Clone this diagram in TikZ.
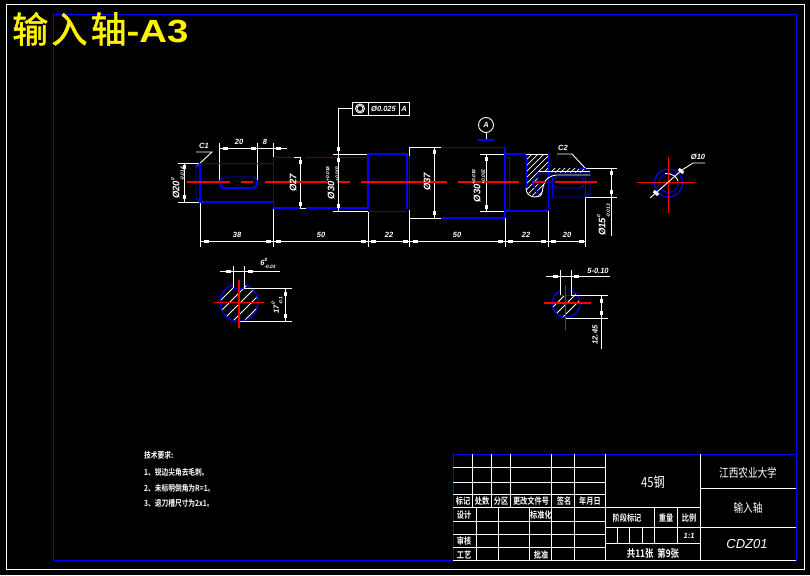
\documentclass[tikz,border=0pt]{standalone}
\usepackage{fontspec}
\usepackage{graphicx}
\setmainfont{Liberation Sans}
\newfontfamily\cjkthin[FakeStretch=0.8]{Noto Sans CJK SC}
\newfontfamily\cjknarrow[FakeStretch=0.8]{Noto Sans CJK SC Bold}
\newfontfamily\cjktitle[LetterSpace=9,FakeBold=1.6]{Noto Sans CJK SC}
\newcommand{\dimfont}{\fontsize{7.5}{8}\selectfont\bfseries\itshape}
\newcommand{\sidefont}{\fontsize{9.5}{10}\selectfont\bfseries\itshape}
\newcommand{\tolval}[2]{\begin{tabular}{@{}l@{}}\fontsize{4.8}{4}\selectfont #1\\[-0.5pt]\fontsize{4.8}{4}\selectfont #2\end{tabular}}
\usetikzlibrary{positioning}

\begin{document}
\begin{tikzpicture} [x=1pt, y=-1pt, node distance=20pt, line cap=butt,
  dimline/.style={white, line width=0.9pt},
  outline/.style={blue, line width=0.9pt},
  heavy/.style={blue, line width=1.9pt},
  axis/.style={red, line width=1.4pt},
  hatchline/.style={white, line width=0.8pt},
  dimtext/.style={white, inner sep=0pt, font=\dimfont},
  sidetext/.style={white, inner sep=0pt, font=\sidefont, rotate=90},
  tablecell/.style={white, inner sep=0pt, font=\cjknarrow\fontsize{9}{10}\selectfont},
  gdtcell/.style={draw=white, line width=0.9pt, text=white, inner sep=0pt, minimum height=13pt, font=\dimfont}]
  % Sheet and frames
  \fill [black] (0,0) rectangle (810,575);
  \useasboundingbox (0,0) rectangle (810,575);
  \draw [white, line width=1pt] (6,5) rectangle (804,569);
  \draw [blue, line width=1pt] (53,15) rectangle (796,560.5);
  \node [anchor=west, text=yellow, inner sep=0pt] (title) at (12,29) {\cjktitle\fontsize{36}{37}\selectfont 输入轴\fontspec{Liberation Sans Bold}\fontsize{32}{37}\selectfont\scalebox{1.2}[1]{-A3}};

  %% Extension and dimension lines
  \draw [dimline] (178,163) -- (200,163);
  \draw [dimline] (178,202) -- (200,202);
  \draw [dimline] (184,163) -- (184,202);
  \draw [dimline] (219,143) -- (219,182);
  \draw [dimline] (257,143) -- (257,182);
  \draw [dimline] (273,143) -- (273,157);
  \draw [dimline] (219,148) -- (287,148);
  \draw [dimline] (200,202) -- (200,247);
  \draw [dimline] (273,208) -- (273,247);
  \draw [dimline] (368,211) -- (368,247);
  \draw [dimline] (409,147) -- (409,156);
  \draw [dimline] (409,210) -- (409,247);
  \draw [dimline] (505,218) -- (505,247);
  \draw [dimline] (548,211) -- (548,247);
  \draw [dimline] (585,197) -- (585,247);
  \draw [dimline] (200,241) -- (585,241);
  \draw [dimline] (294,157) -- (300,157) -- (300,208) -- (306,208);
  \draw [dimline] (333,154) -- (368,154);
  \draw [dimline] (333,211) -- (368,211);
  \draw [dimline] (409,147) -- (441,147);
  \draw [dimline] (409,218) -- (441,218);
  \draw [dimline] (434,147) -- (434,218);
  \draw [dimline] (480,154) -- (505,154);
  \draw [dimline] (480,211) -- (505,211);
  \draw [dimline] (486,154) -- (486,211);
  \draw [dimline] (585,168) -- (617,168);
  \draw [dimline] (585,197) -- (617,197);
  \draw [dimline] (611,168) -- (611,236);
  % Chamfer leaders
  \draw [dimline] (196,152) -- (212,152) -- (196,167);
  \draw [dimline] (557,154) -- (572,154) -- (585,168);

  %% Shaft outline
  \draw [outline] (200,163) -- (196,167) -- (196,198) -- (200,202);
  \draw [outline] (200,163) -- (273,163);
  \draw [heavy] (200,163) -- (200,202) -- (273,202);
  \draw [outline] (273,157) -- (273,208);
  \draw [outline] (273,157) -- (294,157);
  \draw [outline] (306,157) -- (368,157);
  \draw [heavy] (273,208) -- (300,208);
  \draw [heavy] (306,208) -- (368,208);
  \draw [heavy] (368,154) -- (407,154) -- (407,209);
  \draw [heavy] (368,154) -- (368,209);
  \draw [outline] (368,211) -- (407,211);
  \draw [outline] (409,156) -- (409,210);
  \draw [outline] (407,157) -- (409,157);
  \draw [outline] (441,147) -- (505,147);
  \draw [heavy] (441,218) -- (505,218);
  \draw [heavy] (505,147) -- (505,218);
  \draw [outline] (509,157) -- (509,209);
  \draw [outline] (505,157) -- (509,157);
  \draw [outline] (505,209) -- (509,209);
  \draw [heavy] (505,154) -- (526,154);
  \draw [heavy] (505,211) -- (548,211);
  % Keyways
  \draw [outline] (220,180) -- (223,177) -- (254,177) -- (257,180);
  \draw [heavy] (220,180) -- (220,185) -- (223,188) -- (254,188) -- (257,185) -- (257,180);
  \draw [outline] (553,180) -- (556,177) -- (581,177) -- (584,180) -- (584,185) -- (581,188) -- (556,188) -- (553,185) -- cycle;

  %% Broken-out section at the shaft end
  \begin{scope}
    \clip (526,154) -- (548,154) -- (548,172) -- (538,172) -- (538,184) -- (544,184) -- (542,195) -- (535,197) -- (526,192) -- cycle;
    \foreach \c in {464,470,...,530}
      \draw [hatchline, line width=0.7pt] (\c,210) -- (\c+60,150);
  \end{scope}
  \begin{scope}
    \clip (551,168) rectangle (585,172);
    \foreach \c in {540,545,...,590}
      \draw [hatchline, line width=0.7pt] (\c,173) -- (\c+6,167);
  \end{scope}
  \draw [outline] (526,154) -- (526,188);
  \draw [dimline] (526,154) -- (548,154);
  \draw [outline] (548,154) -- (548,211);
  \draw [outline] (538,173) -- (590,173) -- (590,193) -- (586,197) -- (548,197);
  \draw [outline] (552,177) -- (552,197);
  \draw [outline] (585,168) -- (585,197);
  \draw [outline] (578,168) -- (585,168);
  \draw [outline] (532,182) -- (538,173) -- (538,195) -- cycle;
  \draw [dimline] (538,171) -- (590,171);
  \draw [dimline] (526,188) .. controls (526,194) and (530,197) .. (535,197) -- (540,196) .. controls (543,194) and (542,188) .. (544,184) .. controls (546,178) and (550,176) .. (556,175) -- (590,175);

  %% Axis
  \draw [axis] (187,182) -- (230,182);
  \draw [axis] (241,182) -- (253,182);
  \draw [axis] (265,182) -- (327,182);
  \draw [axis] (337,182) -- (350,182);
  \draw [axis] (361,182) -- (447,182);
  \draw [axis] (458,182) -- (519,182);
  \draw [axis] (533,182) -- (545,182);
  \draw [axis] (555,182) -- (597,182);

  %% Arrow marks
  \foreach \x/\y in {206/241,268/241,278/241,363/241,373/241,405/241,415/241,500/241,510/241,543/241,553/241,581/241,225/148,253/148,278/148}
    \fill [white] (\x-2.5,\y-1.5) rectangle ++(5,3);
  \foreach \x/\y in {184/167,184/197,300/162,300/204,338/149,338/160,338/206,434/152,434/213,486/159,486/207,611/173,611/192}
    \fill [white] (\x-1.5,\y-2) rectangle ++(3,4);

  %% Dimension texts
  \node [dimtext] (lenA) at (237,235) {38};
  \node [dimtext] (lenB) at (321,235) {50};
  \node [dimtext] (lenC) at (389,235) {22};
  \node [dimtext] (lenD) at (457,235) {50};
  \node [dimtext] (lenE) at (526,235) {22};
  \node [dimtext] (lenF) at (567,235) {20};
  \node [dimtext] (slotlen) at (239,142) {20};
  \node [dimtext] (slotpos) at (265,142) {8};
  \node [dimtext] (chamL) at (204,146) {C1};
  \node [dimtext] (chamR) at (563,148) {C2};
  \node [sidetext] (diaA) at (177,183) {Ø20\tolval{0}{-0.014}};
  \node [sidetext] (diaB) at (293,183) {Ø27};
  \node [sidetext] (diaC) at (332,183) {Ø30\tolval{+0.018}{+0.002}};
  \node [sidetext] (diaD) at (427,182) {Ø37};
  \node [sidetext] (diaE) at (478,186) {Ø30\tolval{+0.018}{+0.002}};
  \node [sidetext] (diaF) at (603,220) {Ø15\tolval{0}{-0.013}};

  %% Runout tolerance and datum
  \node [gdtcell, minimum width=16pt] (gdtform) at (360,108.5) {};
  \node [gdtcell, minimum width=31pt, right of=gdtform, node distance=23.5pt] (gdtval) {Ø0.025};
  \node [gdtcell, minimum width=10pt, right of=gdtval, node distance=20.5pt] (gdtref) {A};
  \draw [dimline] (gdtform.center) circle (4.5pt);
  \draw [dimline] (gdtform.center) circle (3pt);
  \draw [dimline] (gdtform.west) -| (338,154);
  \draw [dimline] (338,154) -- (338,211);
  \node [circle, draw=white, line width=0.9pt, text=white, inner sep=0pt, minimum size=15pt, font=\dimfont] (datum) at (486,125) {A};
  \coordinate (datumfoot) at (486,140);
  \draw [dimline] (datum) -- (datumfoot);
  \draw [heavy] (478,140) -- (494,140);

  %% Small bearing section on the right
  \draw [heavy, line width=1.2pt] (668.5,183) circle (14pt);
  \draw [outline] (668.5,183) circle (9.5pt);
  \draw [dimline] (665,173.5) .. controls (672,173) and (677,177) .. (678,181);
  \draw [axis] (637,182.5) -- (695,182.5);
  \draw [axis] (668.5,157) -- (668.5,213);
  \draw [dimline] (650,198) -- (682,170) -- (693,163) -- (705,163);
  \foreach \x/\y in {656/193,681/171}
    \fill [white, rotate around={-40:(\x,\y)}] (\x-3,\y-1.5) rectangle ++(6,3);
  \node [dimtext] (holedia) at (698,156.5) {Ø10};

  %% Section at the left keyway
  \begin{scope}
    \clip (239,302.5) circle (19pt);
    \foreach \c in {170,181,...,280}
      \draw [hatchline] (\c,340) -- (\c+60,280);
  \end{scope}
  \draw [heavy, line width=1.2pt] (239,302.5) circle (19pt);
  \fill [black] (234,280) rectangle (243,288);
  \draw [outline] (233,288) -- (244,288);
  \draw [dimline] (233,266) -- (233,288);
  \draw [dimline] (244,266) -- (244,288);
  \draw [dimline] (220,271) -- (280,271);
  \draw [dimline] (244,288) -- (292,288);
  \draw [dimline] (239,321.5) -- (292,321.5);
  \draw [dimline] (285,288) -- (285,321.5);
  \draw [axis] (214,302.5) -- (264,302.5);
  \draw [axis] (239,280) -- (239,328);
  \foreach \x/\y in {228/271,250/271}
    \fill [white] (\x-2.5,\y-1.5) rectangle ++(5,3);
  \foreach \x/\y in {285/294,285/316}
    \fill [white] (\x-1.5,\y-2) rectangle ++(3,4);
  \node [dimtext] (keywidthA) at (268,263.5) {6\tolval{0}{-0.03}};
  \node [sidetext, font=\dimfont] (keydepthA) at (277,305) {17\tolval{0}{-0.1}};

  %% Section at the right keyway
  \begin{scope}
    \clip (566,303.5) circle (14pt);
    \foreach \c in {510,520,...,600}
      \draw [hatchline] (\c,330) -- (\c+50,280);
  \end{scope}
  \draw [heavy, line width=1.2pt] (566,303.5) circle (14pt);
  \fill [black] (561,285) rectangle (570,295);
  \draw [outline] (560,295) -- (571,295);
  \draw [dimline] (560,270) -- (560,295);
  \draw [dimline] (571,270) -- (571,295);
  \draw [dimline] (546,276) -- (610,276);
  \draw [dimline] (571,295) -- (608,295);
  \draw [dimline] (565,318) -- (608,318);
  \draw [dimline] (601,295) -- (601,349);
  \draw [axis] (544,303) -- (591,303);
  \draw [axis] (565.5,285) -- (565.5,330);
  \foreach \x/\y in {555/276,576/276}
    \fill [white] (\x-2.5,\y-1.5) rectangle ++(5,3);
  \foreach \x/\y in {601/301,601/313}
    \fill [white] (\x-1.5,\y-2) rectangle ++(3,4);
  \node [dimtext] (keywidthB) at (598,270.5) {5-0.10};
  \node [sidetext, font=\dimfont] (keydepthB) at (595,335) {12.45};

  %% Technical notes
  \foreach \n/\y/\t in {noteA/455/技术要求:,noteB/472/1、锐边尖角去毛刺。,noteC/488/2、未标明倒角为R=1。,noteD/503/3、退刀槽尺寸为2x1。}
    \node [tablecell, anchor=west, font=\cjknarrow\fontsize{8.4}{10}\selectfont] (\n) at (144,\y) {\t};

  %% Title block
  \draw [blue, line width=1pt] (453,454) -- (796,454);
  \draw [blue, line width=1pt] (453,454) -- (453,560.5);
  \draw [white, line width=1pt] (453,560) -- (796,560);
  \foreach \y in {467,482,494,507}
    \draw [dimline] (453,\y) -- (605,\y);
  \foreach \y in {521,534,547}
    \draw [dimline] (453,\y) -- (605,\y);
  \foreach \x in {472,491,510}
    \draw [dimline] (\x,454) -- (\x,507);
  \foreach \x in {551,574}
    \draw [dimline] (\x,454) -- (\x,560);
  \foreach \x in {476,498,529}
    \draw [dimline] (\x,507) -- (\x,560);
  \draw [dimline] (605,454) -- (605,560);
  \draw [dimline] (700,454) -- (700,560);
  \draw [dimline] (605,507) -- (700,507);
  \draw [dimline] (605,527) -- (796,527);
  \draw [dimline] (605,543) -- (700,543);
  \draw [dimline] (700,488) -- (796,488);
  \foreach \x in {654,677}
    \draw [dimline] (\x,507) -- (\x,543);
  \foreach \x in {617,629,642}
    \draw [dimline] (\x,527) -- (\x,543);
  % Title block texts
  \foreach \n/\x/\y/\t in {markA/463/501/标记,markB/482/501/处数,markC/501/501/分区,markD/531/501/更改文件号,markE/564/501/签名,markF/590/501/年月日,roleA/464/515/设计,roleB/541/515/标准化,roleC/464/541/审核,roleD/464/555/工艺,roleE/541/555/批准,stageA/627/518/阶段标记,stageB/666/518/重量,stageC/689/518/比例}
    \node [tablecell] (\n) at (\x,\y) {\t};
  \node [dimtext] (ratio) at (689,536) {1:1};
  \node [tablecell, font=\cjknarrow\fontsize{10.5}{11}\selectfont] (sheets) at (653,553) {共11张\ \ 第9张};
  \node [tablecell, font=\cjkthin\fontsize{14}{15}\selectfont] (material) at (653,482) {\textit{45}钢};
  \node [tablecell, font=\cjkthin\fontsize{12}{13}\selectfont] (school) at (748,473) {江西农业大学};
  \node [tablecell, font=\cjkthin\fontsize{12}{13}\selectfont] (partname) at (748,508) {输入轴};
  \node [white, inner sep=0pt, font=\fontsize{13}{14}\selectfont\itshape] (drawingno) at (747,544) {CDZ01};
\end{tikzpicture}
\end{document}
